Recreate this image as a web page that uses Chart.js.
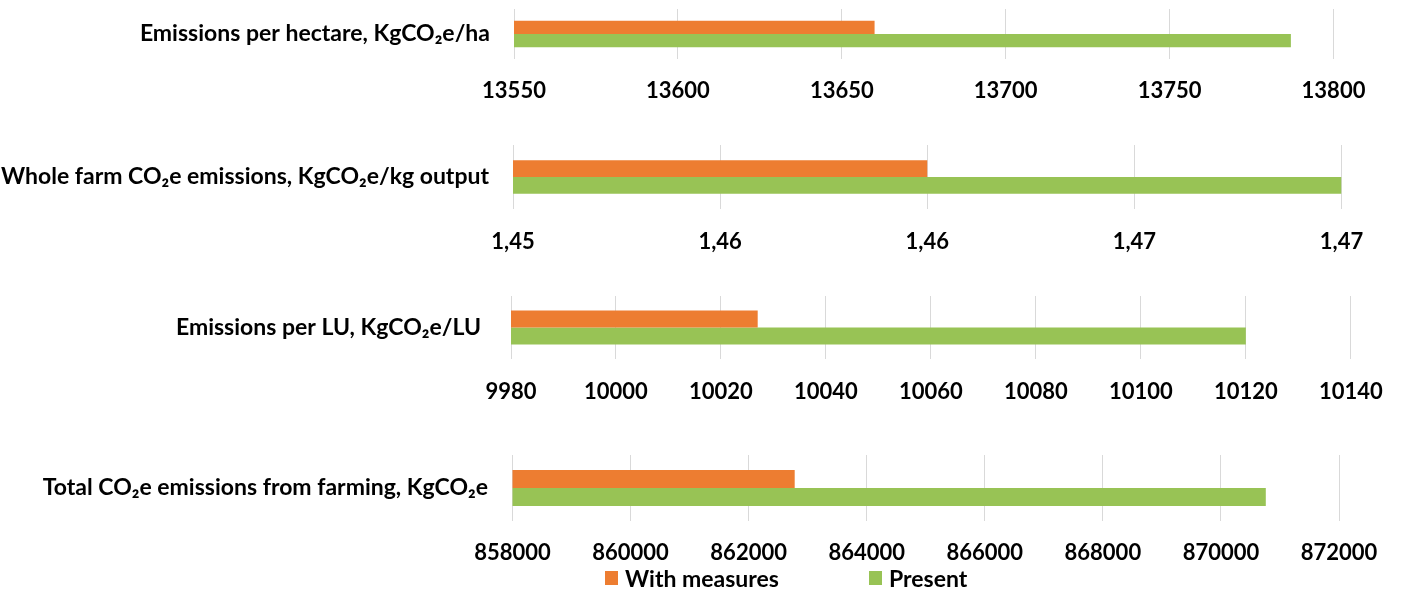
<!DOCTYPE html>
<html>
<head>
<meta charset="utf-8">
<script src="https://cdn.jsdelivr.net/npm/chart.js@4.4.1/dist/chart.umd.min.js"></script>
<style>
  html, body { margin: 0; padding: 0; background: #ffffff; overflow: hidden; }
  #wrap { position: relative; width: 1402px; height: 592px; }
  canvas { position: absolute; left: 0; }
  #legend { position: absolute; left: 605px; top: 566px; height: 24px;
            font-family: Lato, "Open Sans", sans-serif; font-weight: 700; font-size: 23px; color: #000; }
  #legend .item { position: absolute; top: 0; display: flex; align-items: center; height: 24px; white-space: nowrap; }
  #legend .box { width: 13px; height: 14px; margin-right: 7px; }
</style>
</head>
<body>
<div id="wrap">
  <canvas id="c1" width="1402" height="120" style="top:0px"></canvas>
  <canvas id="c2" width="1402" height="150" style="top:120px"></canvas>
  <canvas id="c3" width="1402" height="140" style="top:270px"></canvas>
  <canvas id="c4" width="1402" height="182" style="top:410px"></canvas>
  <div id="legend"></div>
</div>
<script>
// Indicators, one panel each
const categories = [
  'Emissions per hectare, KgCO₂e/ha',
  'Whole farm CO₂e emissions, KgCO₂e/kg output',
  'Emissions per LU, KgCO₂e/LU',
  'Total CO₂e emissions from farming, KgCO₂e'
];

// Series
const seriesNames = ['With measures', 'Present'];
const seriesColors = ['#ED7D31', '#98C355'];
const withMeasures = [13660, 1.46, 10027, 862780];
const present = [13787, 1.47, 10120, 870760];

// Axis ticks per panel
const hectareTicks = [13550, 13600, 13650, 13700, 13750, 13800];
const hectareTickLabels = ['13550', '13600', '13650', '13700', '13750', '13800'];
const outputTicks = [1.45, 1.455, 1.46, 1.465, 1.47];
const outputTickLabels = ['1,45', '1,46', '1,46', '1,47', '1,47'];
const luTicks = [9980, 10000, 10020, 10040, 10060, 10080, 10100, 10120, 10140];
const luTickLabels = ['9980', '10000', '10020', '10040', '10060', '10080', '10100', '10120', '10140'];
const totalTicks = [858000, 860000, 862000, 864000, 866000, 868000, 870000, 872000];
const totalTickLabels = ['858000', '860000', '862000', '864000', '866000', '868000', '870000', '872000'];

const FONT_FAMILY = 'Lato, "Open Sans", sans-serif';
const tickFont = { family: FONT_FAMILY, size: 22, weight: 'bold' };
const catFont = { family: FONT_FAMILY, size: 23, weight: 'bold' };
const W = 1402;
const X_AXIS_H = 50;

function makePanel(id, idx, tickValues, tickLabels, box) {
  const canvas = document.getElementById(id);
  const H = canvas.height;
  const padTop = box.top - box.canvasTop;
  const padBottom = H - (box.bottom - box.canvasTop) - X_AXIS_H;
  return new Chart(canvas, {
    type: 'bar',
    data: {
      labels: [categories[idx]],
      datasets: [
        { label: seriesNames[0], data: [withMeasures[idx]], backgroundColor: seriesColors[0] },
        { label: seriesNames[1], data: [present[idx]], backgroundColor: seriesColors[1] }
      ]
    },
    options: {
      indexAxis: 'y',
      responsive: false,
      animation: false,
      devicePixelRatio: 1,
      layout: { padding: { top: padTop, bottom: padBottom, left: 0, right: W - box.right } },
      datasets: { bar: { barPercentage: 1, categoryPercentage: box.cat, borderWidth: 0 } },
      plugins: { legend: { display: false }, tooltip: { enabled: false } },
      scales: {
        x: {
          type: 'linear',
          min: tickValues[0],
          max: tickValues[tickValues.length - 1],
          afterBuildTicks: s => { s.ticks = tickValues.map(v => ({ value: v })); },
          afterFit: s => { s.height = X_AXIS_H; },
          grid: { color: '#d9d9d9', lineWidth: 1, drawTicks: false },
          border: { display: false },
          ticks: {
            padding: box.tickPad - tickFont.size * 0.6,
            color: '#000000',
            font: tickFont,
            maxRotation: 0,
            autoSkip: false,
            callback: (v, i) => tickLabels[i]
          }
        },
        y: {
          // fixed label column; no extra vertical room reserved for the label
          afterFit: s => { s.width = box.left; s.paddingTop = 0; s.paddingBottom = 0; },
          grid: { display: false, drawTicks: false },
          border: { display: false },
          ticks: { padding: box.labelPad, color: '#000000', font: catFont }
        }
      }
    }
  });
}

makePanel('c1', 0, hectareTicks, hectareTickLabels,
  { canvasTop: 0, top: 9, bottom: 59, left: 514, right: 1333.5, cat: 0.53, tickPad: 32, labelPad: 24 });
makePanel('c2', 1, outputTicks, outputTickLabels,
  { canvasTop: 120, top: 145, bottom: 209, left: 513, right: 1341.5, cat: 0.52, tickPad: 33, labelPad: 24 });
makePanel('c3', 2, luTicks, luTickLabels,
  { canvasTop: 270, top: 296, bottom: 359, left: 511, right: 1352, cat: 0.54, tickPad: 32.5, labelPad: 30 });
makePanel('c4', 3, totalTicks, totalTickLabels,
  { canvasTop: 410, top: 455, bottom: 521, left: 512.5, right: 1339, cat: 0.545, tickPad: 32, labelPad: 24.5 });

// Shared legend under the last panel
const legend = document.getElementById('legend');
const legendOffsets = [0, 264];
seriesNames.forEach((name, i) => {
  const item = document.createElement('div');
  item.className = 'item';
  item.style.left = legendOffsets[i] + 'px';
  const sw = document.createElement('span');
  sw.className = 'box';
  sw.style.background = seriesColors[i];
  const txt = document.createElement('span');
  txt.textContent = name;
  item.appendChild(sw);
  item.appendChild(txt);
  legend.appendChild(item);
});
</script>
</body>
</html>
